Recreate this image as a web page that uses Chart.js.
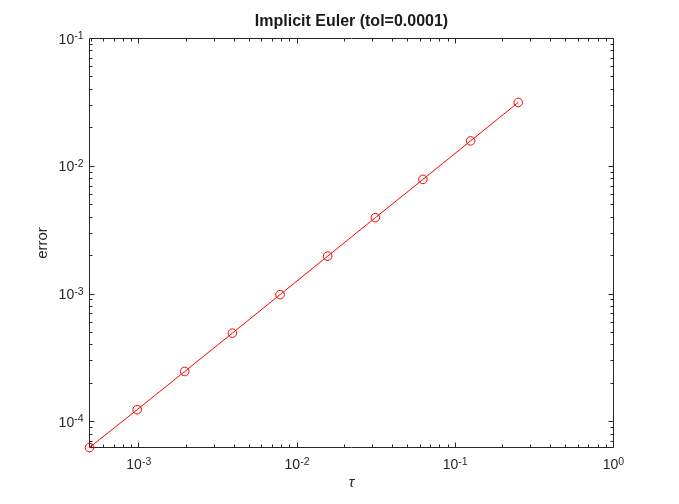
<!DOCTYPE html>
<html><head><meta charset="utf-8">
<script src="https://cdn.jsdelivr.net/npm/chart.js@4/dist/chart.umd.min.js"></script>
<style>html,body{margin:0;padding:0;background:#fff}canvas{display:block}</style>
</head><body>
<canvas id="c" width="679" height="504"></canvas>
<script>
// ---- data ----
const tau = [0.25, 0.125, 0.0625, 0.03125, 0.015625, 0.0078125, 0.00390625, 0.001953125, 0.0009765625, 0.00048828125];
const errorValues = [0.0316, 0.0158, 0.0079, 0.00396, 0.00198, 0.00099, 0.000495, 0.000248, 0.0001245, 0.000063];
const xTickExponents = [-3, -2, -1, 0];
const yTickExponents = [-4, -3, -2, -1];
const xRange = [0.00048828125, 1];
const yRange = [0.000063, 0.1];
const titleText = 'Implicit Euler (tol=0.0001)';
const xLabel = 'τ';
const yLabel = 'error';

const INK = '#262626';
const FONT = '"Liberation Sans", Arial, Helvetica, sans-serif';

function snap(p) { return Math.floor(p) + 0.5; }

const axesPlugin = {
  id: 'matlabAxes',
  beforeDatasetsDraw(chart) {
    const {ctx, chartArea: a, scales: {x, y}} = chart;
    ctx.save();
    ctx.strokeStyle = INK;
    ctx.lineWidth = 1;
    const L = snap(a.left), R = snap(a.right), T = snap(a.top), B = snap(a.bottom);
    ctx.beginPath();
    ctx.rect(L, T, R - L, B - T);
    // x ticks (major at powers of ten, minor in between)
    for (let n = -4; n <= 0; n++) {
      for (let k = 1; k <= 9; k++) {
        const v = k * Math.pow(10, n);
        if (v < x.min * 0.9999 || v > x.max * 1.0001) continue;
        const px = snap(x.getPixelForValue(v));
        const len = k === 1 ? 5 : 3;
        ctx.moveTo(px, B); ctx.lineTo(px, B - len);
        ctx.moveTo(px, T); ctx.lineTo(px, T + len);
      }
    }
    for (let n = -5; n <= -1; n++) {
      for (let k = 1; k <= 9; k++) {
        const v = k * Math.pow(10, n);
        if (v < y.min * 0.9999 || v > y.max * 1.0001) continue;
        const py = snap(y.getPixelForValue(v));
        const len = k === 1 ? 5 : 3;
        ctx.moveTo(L, py); ctx.lineTo(L + len, py);
        ctx.moveTo(R, py); ctx.lineTo(R - len, py);
      }
    }
    ctx.stroke();

    // tick labels 10^n
    ctx.fillStyle = INK;
    ctx.textAlign = 'left';
    ctx.textBaseline = 'alphabetic';
    const baseFont = '14px ' + FONT, expFont = '10.5px ' + FONT;
    function widths(e) {
      ctx.font = baseFont; const wb = ctx.measureText('10').width;
      ctx.font = expFont; const we = ctx.measureText(String(e)).width;
      return [wb, we];
    }
    yTickExponents.forEach(e => {
      const py = y.getPixelForValue(Math.pow(10, e));
      const [wb, we] = widths(e);
      const x0 = a.left - 6 - we - wb;
      ctx.font = baseFont; ctx.fillText('10', x0, py + 5);
      ctx.font = expFont; ctx.fillText(String(e), x0 + wb, py + 0.5);
    });
    xTickExponents.forEach(e => {
      const px = x.getPixelForValue(Math.pow(10, e));
      const [wb, we] = widths(e);
      const x0 = px - (wb + we) / 2;
      ctx.font = baseFont; ctx.fillText('10', x0, a.bottom + 21.5);
      ctx.font = expFont; ctx.fillText(String(e), x0 + wb, a.bottom + 17);
    });
    ctx.restore();
  }
};

new Chart(document.getElementById('c'), {
  type: 'line',
  data: {
    datasets: [{
      data: tau.map((t, i) => ({x: t, y: errorValues[i]})),
      borderColor: '#ff0000',
      borderWidth: 1,
      pointRadius: 4.3,
      pointHoverRadius: 4.3,
      pointBorderColor: '#ff0000',
      pointBackgroundColor: 'rgba(0,0,0,0)',
      pointBorderWidth: 1,
      fill: false,
      tension: 0,
      clip: false
    }]
  },
  options: {
    responsive: false,
    animation: false,
    devicePixelRatio: 1,
    events: [],
    layout: {padding: {left: 0, right: 65.5, top: 0, bottom: 0}},
    plugins: {
      legend: {display: false},
      tooltip: {enabled: false},
      title: {
        display: true, text: titleText, fullSize: false, color: '#1a1a1a',
        font: {family: FONT, size: 16, weight: 'bold', lineHeight: 1.2},
        padding: {top: 11.8, bottom: 7.5}
      }
    },
    scales: {
      x: {
        type: 'logarithmic', min: xRange[0], max: xRange[1],
        grid: {display: false, drawTicks: false},
        border: {display: false},
        ticks: {display: false},
        title: {display: true, text: xLabel, color: INK,
          font: {family: FONT, size: 15, style: 'italic', lineHeight: 1.2},
          padding: {top: 26.5, bottom: 12}},
        afterFit(s) { s.height = 56.5; }
      },
      y: {
        type: 'logarithmic', min: yRange[0], max: yRange[1],
        grid: {display: false, drawTicks: false},
        border: {display: false},
        ticks: {display: false},
        title: {display: true, text: yLabel, color: INK,
          font: {family: FONT, size: 15, lineHeight: 1.2},
          padding: {top: 33.9, bottom: 37.6}},
        afterFit(s) { s.width = 89.5; }
      }
    }
  },
  plugins: [axesPlugin]
});
</script>
</body></html>
